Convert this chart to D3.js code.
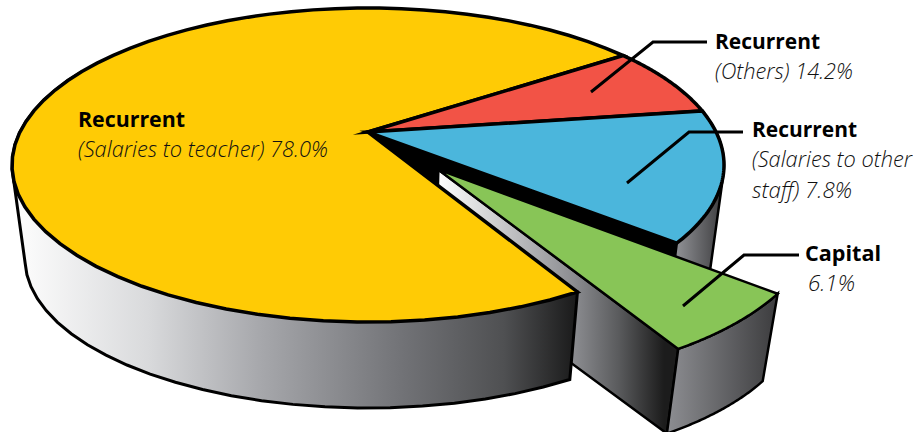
<!DOCTYPE html>
<html>
<head>
<meta charset="utf-8">
<style>
  html, body { margin: 0; padding: 0; background: #fff; }
  svg { display: block; }
  text { font-family: "Open Sans", "Noto Sans", sans-serif; }
  .head { font-weight: 700; font-size: 22px; fill: #000; }
  .note { font-weight: 300; font-style: italic; font-size: 21.5px; fill: #111; }
</style>
</head>
<body>
<script src="https://cdn.jsdelivr.net/npm/d3@7/dist/d3.min.js"></script>
<script>
// Slices clockwise, beginning with the red wedge at the upper right.
const sliceKeys = ["others", "otherStaff", "capital", "teachers"];
const sliceValues = [7.8, 14.2, 6.1, 78.0];
const sliceColors = ["#f25346", "#4bb6dc", "#88c557", "#ffcb05"];

const labelHeads = ["Recurrent", "Recurrent", "Recurrent", "Capital"];
const labelLines = [
  ["(Salaries to teacher) 78.0%"],
  ["(Others) 14.2%"],
  ["(Salaries to other", "staff) 7.8%"],
  ["6.1%"]
];

const width = 913, height = 432;

const svg = d3.select("body").append("svg")
  .attr("width", width).attr("height", height);
const defs = svg.append("defs");

// Top face and base of the disc are two ellipses; the base sits lower and is a little narrower.
const xTop = d3.scaleLinear([-1, 1], [12, 724]);
const yTop = d3.scaleLinear([-1, 1], [8, 322]);
const xBase = d3.scaleLinear([-1, 1], [25, 711]);
const yBase = d3.scaleLinear([-1, 1], [110, 408]);

// Perspective: the disc's true centre lands above the middle of the ellipse.
const tilt = 0.21;
const squeeze = Math.sqrt(1 - tilt * tilt);
const toDisk = ([p, q]) => {
  const d = 1 - tilt * q;
  return [p * squeeze / d, (q - tilt) / d];
};
const onTop = pt => { const [u, v] = toDisk(pt); return [xTop(u), yTop(v)]; };
const onBase = pt => { const [u, v] = toDisk(pt); return [xBase(u), yBase(v)]; };

const pie = d3.pie().sort(null)
  .startAngle(55.2 * Math.PI / 180)
  .endAngle((55.2 + 360) * Math.PI / 180);
const arcs = pie(sliceValues);
const bySlice = Object.fromEntries(sliceKeys.map((k, i) => [k, arcs[i]]));

// Points along a slice's rim in disc coordinates, shifted when the slice is pulled out.
const rim = (a, shift = [0, 0]) =>
  d3.range(0, 61).map(i => {
    const t = a.startAngle + (a.endAngle - a.startAngle) * i / 60;
    return [Math.sin(t) + shift[0], -Math.cos(t) + shift[1]];
  });

const line = d3.line().curve(d3.curveLinear);
const closed = pts => line(pts) + "Z";

function gradient(id, x1, x2, stops) {
  const g = defs.append("linearGradient").attr("id", id)
    .attr("gradientUnits", "userSpaceOnUse")
    .attr("x1", x1).attr("x2", x2).attr("y1", 0).attr("y2", 0);
  stops.forEach(([o, c]) => g.append("stop").attr("offset", o).attr("stop-color", c));
}
gradient("wall-main", xBase(-1), 582, [[0, "#fbfbfb"], [0.22, "#d9dadc"], [0.42, "#a7a8ac"],
  [0.68, "#717276"], [0.86, "#4f5052"], [1, "#161616"]]);
gradient("wall-blue", 678, 724, [[0, "#8d8e92"], [1, "#3a3a3c"]]);
gradient("wall-cut", 437, 664, [[0, "#ffffff"], [0.6, "#8c8d91"], [0.8, "#5a5b5d"], [1, "#1c1c1c"]]);
gradient("wall-rim", 664, 776, [[0, "#8f9094"], [1, "#3d3d3f"]]);

const stroke = (sel, w = 3) => sel
  .attr("stroke", "#000").attr("stroke-width", w)
  .attr("stroke-linejoin", "miter").attr("stroke-miterlimit", 10);

const outline = (rimPts) => d3.polygonHull(rimPts.map(onTop).concat(rimPts.map(onBase)));

// Side wall behind the blue wedge.
const blue = bySlice.otherStaff;
svg.append("path")
  .attr("d", closed(outline(rim(blue))))
  .attr("fill", "url(#wall-blue)").call(stroke, 2.5);

// Black cut face under the blue wedge's lower edge.
const blueEnd = rim(blue)[60];
svg.append("path")
  .attr("d", closed([onTop([0, 0]), onTop(blueEnd), onBase(blueEnd), onBase([0, 0])]))
  .attr("fill", "#000");

// Pulled-out wedge: cut face and outer wall.
const capital = bySlice.capital;
const pull = [0.192, 0.238];
const capRim = rim(capital, pull);
const capLast = capRim[60];
svg.append("path")
  .attr("d", closed([onTop(pull), onTop(capLast), onBase(capLast), onBase(pull)]))
  .attr("fill", "url(#wall-cut)").call(stroke, 2.5);
svg.append("path")
  .attr("d", closed(capRim.map(onTop).concat(capRim.map(onBase).reverse())))
  .attr("fill", "url(#wall-rim)").call(stroke, 2.5);

// Front wall of the large slice, from its lower right corner round to the left side.
const teachers = bySlice.teachers;
const frontRim = rim(teachers).filter(([p, q]) => q > 0 || p < 0).filter(([p, q]) => q > -0.45);
svg.append("path")
  .attr("d", closed(outline(frontRim)))
  .attr("fill", "url(#wall-main)").call(stroke, 3);

// Top faces.
const tops = svg.append("g");
["teachers", "others", "otherStaff"].forEach(k => {
  const a = bySlice[k];
  tops.append("path")
    .attr("d", closed([onTop([0, 0])].concat(rim(a).map(onTop))))
    .attr("fill", sliceColors[sliceKeys.indexOf(k)]).call(stroke, 3.5);
});
tops.append("path")
  .attr("d", closed([onTop(pull)].concat(capRim.map(onTop))))
  .attr("fill", sliceColors[sliceKeys.indexOf("capital")]).call(stroke, 2.5);

// Leader lines from each wedge out to its caption.
const leaderPaths = [
  [[591, 92], [653, 42], [707, 42]],
  [[627, 183], [689, 132], [743, 132]],
  [[683, 306], [744, 255], [799, 255]]
];
svg.append("g").selectAll("path").data(leaderPaths).join("path")
  .attr("d", d => line(d))
  .attr("fill", "none").call(stroke, 3);

// Captions.
const headAnchors = [[78, 127, 107], [715, 49, 105], [752, 137, 105], [805, 261, 76]];
const noteAnchors = [
  [[78, 157, 250]],
  [[715, 79, 138]],
  [[752, 167, 160], [752, 198, 100]],
  [[808, 291, 47]]
];
labelHeads.forEach((h, i) => {
  const [x, y, w] = headAnchors[i];
  svg.append("text").attr("class", "head").attr("x", x).attr("y", y)
    .attr("textLength", w).attr("lengthAdjust", "spacingAndGlyphs").text(h);
  labelLines[i].forEach((t, j) => {
    const [nx, ny, nw] = noteAnchors[i][j];
    svg.append("text").attr("class", "note").attr("x", nx).attr("y", ny)
      .attr("textLength", nw).attr("lengthAdjust", "spacingAndGlyphs").text(t);
  });
});
</script>
</body>
</html>
